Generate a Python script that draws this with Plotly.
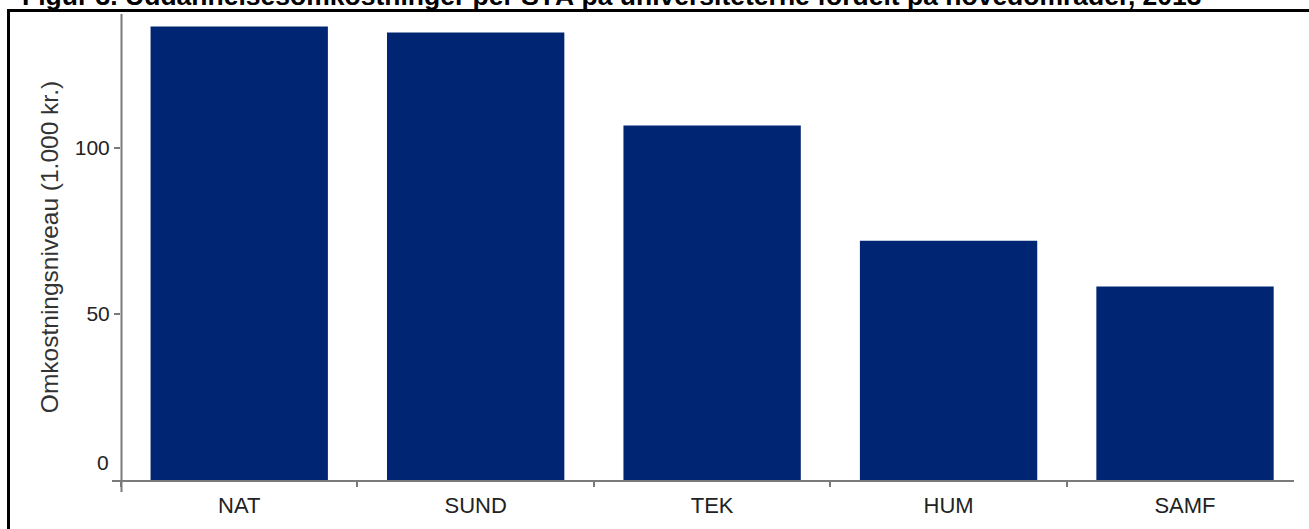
import plotly.graph_objects as go

categories = ["NAT", "SUND", "TEK", "HUM", "SAMF"]
values = [136.6, 134.8, 106.8, 72.1, 58.3]
ytick_vals = [50, 100]
ytick_text = ["50", "100"]
title_text = "Figur 3. Uddannelsesomkostninger per STÅ på universiteterne fordelt på hovedområder, 2013"
ytitle = "Omkostningsniveau (1.000 kr.)"

W, H = 1309, 529
ML, MR, MT, MB = 121, 6, 14, 49
PW = W - ML - MR
PH = H - MT - MB

def px(x):
    return (x - ML) / PW

def py(y):
    return (H - MB - y) / PH

FONT = "Liberation Sans, Arial, sans-serif"
GRAY = "#7a7a7a"

fig = go.Figure()
fig.add_trace(go.Bar(x=categories, y=values, marker=dict(color="#002673", line=dict(width=0)),
                     width=0.75, hoverinfo="x+y"))

fig.update_layout(
    width=W, height=H,
    margin=dict(l=ML, r=MR, t=MT, b=MB, pad=0),
    paper_bgcolor="white", plot_bgcolor="white",
    showlegend=False,
    font=dict(family=FONT, size=21, color="#222"),
    xaxis=dict(type="category", range=[-0.5, 4.499], showline=False, showgrid=False, zeroline=False,
               showspikes=False,
               ticks="outside", tickson="boundaries", ticklen=6, tickwidth=1.5, tickcolor=GRAY,
               tickfont=dict(family=FONT, size=22, color="#222"), ticklabelstandoff=10),
    yaxis=dict(range=[0, 140.4], showline=False, showgrid=False, zeroline=False,
               showspikes=False,
               tickvals=ytick_vals, ticktext=ytick_text,
               ticks="outside", ticklen=6, tickwidth=1.5, tickcolor=GRAY,
               tickfont=dict(family=FONT, size=21, color="#222"),
               title=dict(text=ytitle, font=dict(family=FONT, size=24.5, color="#333"), standoff=9)),
    shapes=[
        # frame: left and top edges
        dict(type="line", xref="paper", yref="paper", x0=px(8.5), x1=px(8.5), y0=py(540), y1=py(9.5),
             line=dict(color="black", width=3), layer="above"),
        dict(type="line", xref="paper", yref="paper", x0=px(7), x1=px(1309), y0=py(10.5), y1=py(10.5),
             line=dict(color="black", width=3), layer="above"),
        # y axis line
        dict(type="line", xref="paper", yref="paper", x0=px(121.5), x1=px(121.5), y0=py(492), y1=py(14),
             line=dict(color=GRAY, width=2), layer="above"),
        # x axis line
        dict(type="line", xref="paper", yref="paper", x0=px(112), x1=px(1294), y0=py(481), y1=py(481),
             line=dict(color=GRAY, width=2), layer="above"),
    ],
    annotations=[
        dict(text="0", xref="paper", yref="paper", x=px(111), y=py(476), xanchor="right", yanchor="bottom",
             showarrow=False, font=dict(family=FONT, size=21, color="#222")),
        dict(text="<b>" + title_text + "</b>", xref="paper", yref="paper", x=px(20), y=py(13.5),
             xanchor="left", yanchor="bottom", showarrow=False,
             font=dict(family=FONT, size=26.5, color="black")),
    ],
)

fig.write_html(
    "out.html",
    config={"displayModeBar": False},
    post_script=(
        "var s=document.createElement('style');"
        "s.textContent='html,body{margin:0;padding:0;overflow:hidden;scrollbar-width:none;}"
        "::-webkit-scrollbar{display:none;width:0;height:0;}';"
        "document.head.appendChild(s);"
    ),
)
